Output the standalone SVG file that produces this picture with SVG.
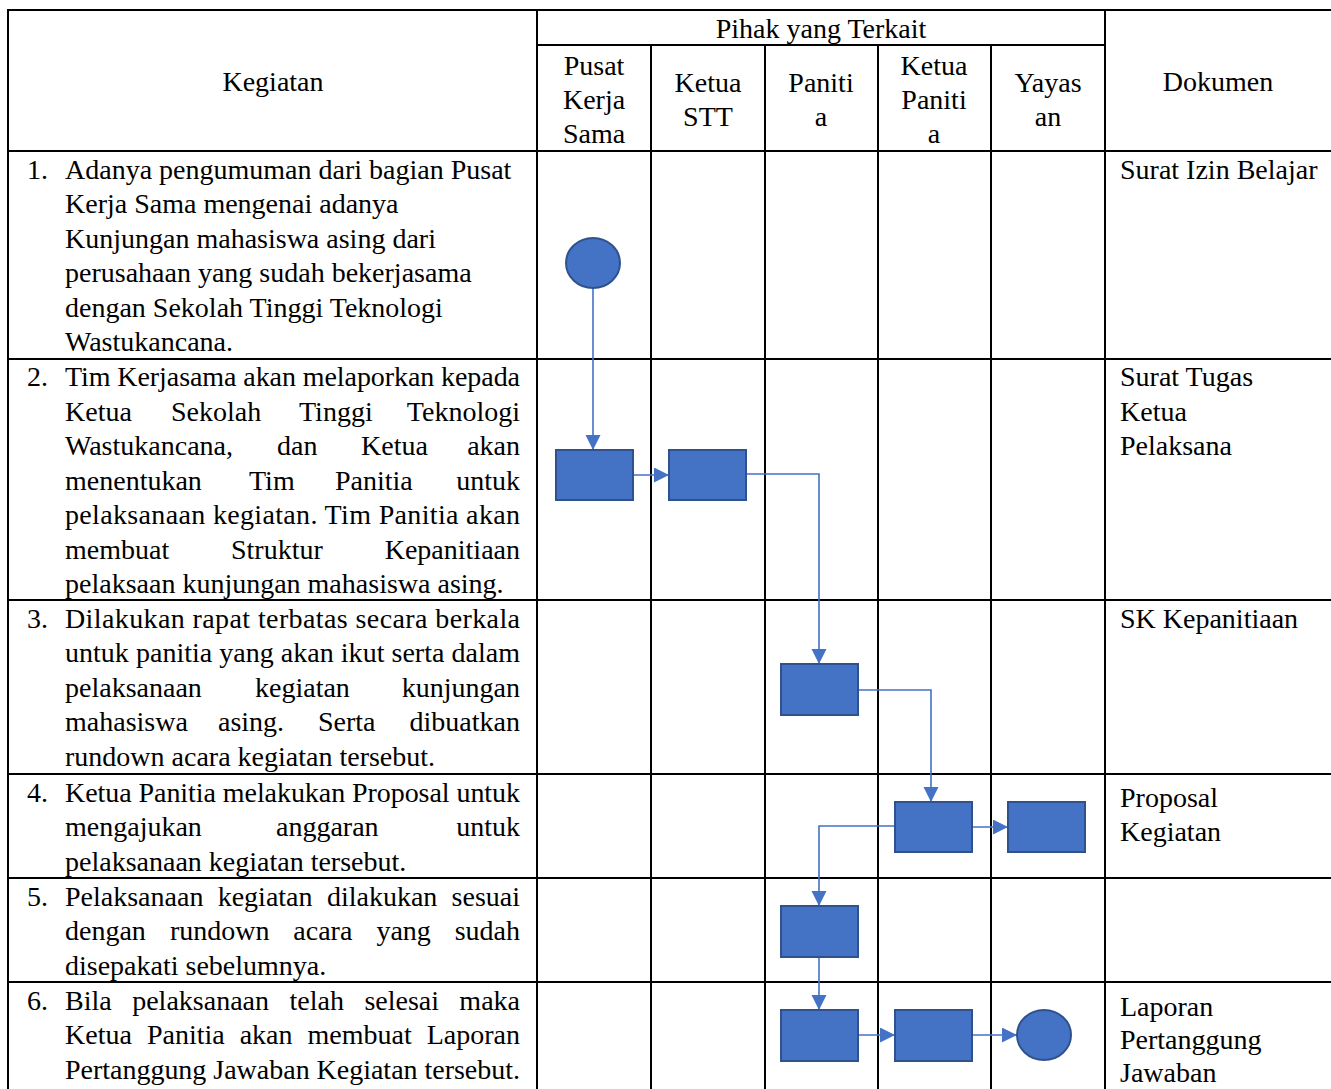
<svg xmlns="http://www.w3.org/2000/svg" width="1331" height="1089" viewBox="0 0 1331 1089">
<style>
  text { font-family: "Liberation Serif", "Times New Roman", serif; font-size: 28px; fill: #000; }
  .c { text-anchor: middle; }
  .e { text-anchor: end; }
  .grid line { stroke: #000; stroke-width: 2; }
  .shape { fill: #4472C4; stroke: #2F528F; stroke-width: 2; }
  .conn { fill: none; stroke: #4472C4; stroke-width: 1.6; }
</style>
<defs>
  <marker id="arrow" markerUnits="userSpaceOnUse" markerWidth="16" markerHeight="16" refX="15" refY="7.5" orient="auto">
    <path d="M0,0 L15,7.5 L0,15 Z" fill="#4472C4"/>
  </marker>
</defs>
<rect width="1331" height="1089" fill="#fff"/>

<g id="table" class="grid">
  <line x1="7" y1="10" x2="1331" y2="10"/>
  <line x1="537" y1="45" x2="1105" y2="45"/>
  <line x1="7" y1="151" x2="1331" y2="151"/>
  <line x1="7" y1="359" x2="1331" y2="359"/>
  <line x1="7" y1="600" x2="1331" y2="600"/>
  <line x1="7" y1="774" x2="1331" y2="774"/>
  <line x1="7" y1="878" x2="1331" y2="878"/>
  <line x1="7" y1="982" x2="1331" y2="982"/>
  <line x1="8" y1="9" x2="8" y2="1089"/>
  <line x1="537" y1="9" x2="537" y2="1089"/>
  <line x1="651" y1="45" x2="651" y2="1089"/>
  <line x1="765" y1="45" x2="765" y2="1089"/>
  <line x1="878" y1="45" x2="878" y2="1089"/>
  <line x1="991" y1="45" x2="991" y2="1089"/>
  <line x1="1105" y1="9" x2="1105" y2="1089"/>
</g>

<g id="header">
  <text class="c" x="273" y="91">Kegiatan</text>
  <text class="c" x="821" y="38">Pihak yang Terkait</text>
  <text class="c" x="594"><tspan x="594" y="75">Pusat</tspan><tspan x="594" y="109">Kerja</tspan><tspan x="594" y="143">Sama</tspan></text>
  <text class="c" x="708"><tspan x="708" y="92">Ketua</tspan><tspan x="708" y="126">STT</tspan></text>
  <text class="c" x="821"><tspan x="821" y="92">Paniti</tspan><tspan x="821" y="126">a</tspan></text>
  <text class="c" x="934"><tspan x="934" y="75">Ketua</tspan><tspan x="934" y="109">Paniti</tspan><tspan x="934" y="143">a</tspan></text>
  <text class="c" x="1048"><tspan x="1048" y="92">Yayas</tspan><tspan x="1048" y="126">an</tspan></text>
  <text class="c" x="1218" y="91">Dokumen</text>
</g>

<g id="kegiatan-1">
  <text x="27" y="178.5">1.</text>
  <text x="65" y="178.5">Adanya pengumuman dari bagian Pusat</text>
  <text x="65" y="213">Kerja Sama mengenai adanya</text>
  <text x="65" y="247.5">Kunjungan mahasiswa asing dari</text>
  <text x="65" y="282">perusahaan yang sudah bekerjasama</text>
  <text x="65" y="316.5">dengan Sekolah Tinggi Teknologi</text>
  <text x="65" y="351">Wastukancana.</text>
</g>

<g id="kegiatan-2">
  <text x="27" y="386">2.</text>
  <text x="65" y="386" textLength="455" lengthAdjust="spacing">Tim Kerjasama akan melaporkan kepada</text>
  <text y="420.5"><tspan x="65">Ketua</tspan><tspan x="171">Sekolah</tspan><tspan x="299">Tinggi</tspan><tspan x="520" text-anchor="end">Teknologi</tspan></text>
  <text y="455"><tspan x="65">Wastukancana,</tspan><tspan x="277">dan</tspan><tspan x="361">Ketua</tspan><tspan x="520" text-anchor="end">akan</tspan></text>
  <text y="489.5"><tspan x="65">menentukan</tspan><tspan x="249">Tim</tspan><tspan x="335">Panitia</tspan><tspan x="520" text-anchor="end">untuk</tspan></text>
  <text x="65" y="524" textLength="455" lengthAdjust="spacing">pelaksanaan kegiatan. Tim Panitia akan</text>
  <text y="558.5"><tspan x="65">membuat</tspan><tspan x="231">Struktur</tspan><tspan x="520" text-anchor="end">Kepanitiaan</tspan></text>
  <text x="65" y="593">pelaksaan kunjungan mahasiswa asing.</text>
</g>

<g id="kegiatan-3">
  <text x="27" y="627.5">3.</text>
  <text x="65" y="627.5" textLength="455" lengthAdjust="spacing">Dilakukan rapat terbatas secara berkala</text>
  <text x="65" y="662" textLength="455" lengthAdjust="spacing">untuk panitia yang akan ikut serta dalam</text>
  <text y="696.5"><tspan x="65">pelaksanaan</tspan><tspan x="255">kegiatan</tspan><tspan x="520" text-anchor="end">kunjungan</tspan></text>
  <text y="731"><tspan x="65">mahasiswa</tspan><tspan x="218">asing.</tspan><tspan x="318">Serta</tspan><tspan x="520" text-anchor="end">dibuatkan</tspan></text>
  <text x="65" y="765.5">rundown acara kegiatan tersebut.</text>
</g>

<g id="kegiatan-4">
  <text x="27" y="801.5">4.</text>
  <text x="65" y="801.5" textLength="455" lengthAdjust="spacing">Ketua Panitia melakukan Proposal untuk</text>
  <text y="836"><tspan x="65">mengajukan</tspan><tspan x="276">anggaran</tspan><tspan x="520" text-anchor="end">untuk</tspan></text>
  <text x="65" y="870.5">pelaksanaan kegiatan tersebut.</text>
</g>

<g id="kegiatan-5">
  <text x="27" y="905.5">5.</text>
  <text y="905.5"><tspan x="65">Pelaksanaan</tspan><tspan x="217.7">kegiatan</tspan><tspan x="326.9">dilakukan</tspan><tspan x="520" text-anchor="end">sesuai</tspan></text>
  <text y="940"><tspan x="65">dengan</tspan><tspan x="169.9">rundown</tspan><tspan x="293.3">acara</tspan><tspan x="376.4">yang</tspan><tspan x="520" text-anchor="end">sudah</tspan></text>
  <text x="65" y="974.5">disepakati sebelumnya.</text>
</g>

<g id="kegiatan-6">
  <text x="27" y="1009.5">6.</text>
  <text y="1009.5"><tspan x="65">Bila</tspan><tspan x="132.2">pelaksanaan</tspan><tspan x="289.5">telah</tspan><tspan x="364.4">selesai</tspan><tspan x="520" text-anchor="end">maka</tspan></text>
  <text y="1044"><tspan x="65">Ketua</tspan><tspan x="146.9">Panitia</tspan><tspan x="239.7">akan</tspan><tspan x="307.6">membuat</tspan><tspan x="520" text-anchor="end">Laporan</tspan></text>
  <text x="65" y="1078.5" textLength="455" lengthAdjust="spacing">Pertanggung Jawaban Kegiatan tersebut.</text>
</g>

<g id="dokumen">
  <text x="1120" y="178.5">Surat Izin Belajar</text>
  <text x="1120"><tspan x="1120" y="386">Surat Tugas</tspan><tspan x="1120" y="420.5">Ketua</tspan><tspan x="1120" y="455">Pelaksana</tspan></text>
  <text x="1120" y="627.5">SK Kepanitiaan</text>
  <text x="1120"><tspan x="1120" y="807">Proposal</tspan><tspan x="1120" y="840.5">Kegiatan</tspan></text>
  <text x="1120"><tspan x="1120" y="1016">Laporan</tspan><tspan x="1120" y="1049">Pertanggung</tspan><tspan x="1120" y="1082">Jawaban</tspan></text>
</g>

<g id="connectors">
  <path class="conn" d="M593,288 L593,450" marker-end="url(#arrow)"/>
  <path class="conn" d="M633,475 L669,475" marker-end="url(#arrow)"/>
  <path class="conn" d="M747,474 L819,474 L819,664" marker-end="url(#arrow)"/>
  <path class="conn" d="M858,690 L931,690 L931,802" marker-end="url(#arrow)"/>
  <path class="conn" d="M972,827 L1008,827" marker-end="url(#arrow)"/>
  <path class="conn" d="M895,826 L819,826 L819,906" marker-end="url(#arrow)"/>
  <path class="conn" d="M819,957 L819,1010" marker-end="url(#arrow)"/>
  <path class="conn" d="M858,1035 L895,1035" marker-end="url(#arrow)"/>
  <path class="conn" d="M972,1035 L1017,1035" marker-end="url(#arrow)"/>
</g>

<g id="start"><ellipse class="shape" cx="593" cy="263" rx="27" ry="25"/></g>
<g id="p1"><rect class="shape" x="556" y="450" width="77" height="50"/></g>
<g id="p2"><rect class="shape" x="669" y="450" width="77" height="50"/></g>
<g id="p3"><rect class="shape" x="781" y="664" width="77" height="51"/></g>
<g id="p4"><rect class="shape" x="895" y="802" width="77" height="50"/></g>
<g id="p5"><rect class="shape" x="1008" y="802" width="77" height="50"/></g>
<g id="p6"><rect class="shape" x="781" y="906" width="77" height="51"/></g>
<g id="p7"><rect class="shape" x="781" y="1010" width="77" height="51"/></g>
<g id="p8"><rect class="shape" x="895" y="1010" width="77" height="51"/></g>
<g id="end"><ellipse class="shape" cx="1044" cy="1035" rx="27" ry="25"/></g>
</svg>
